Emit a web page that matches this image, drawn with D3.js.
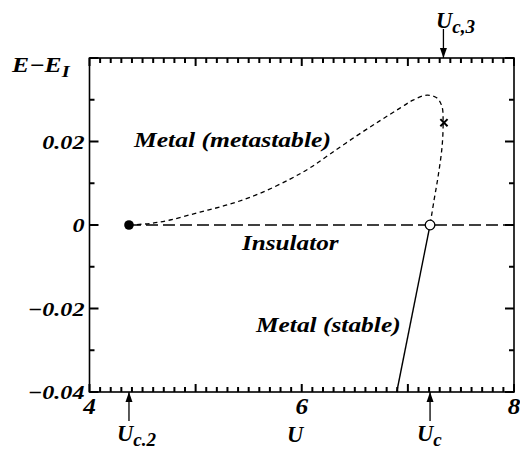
<!DOCTYPE html>
<html><head><meta charset="utf-8">
<script src="https://cdn.jsdelivr.net/npm/d3@7/dist/d3.min.js"></script>
<style>
body{margin:0;background:#fff;}
</style></head>
<body>
<svg id="c" width="520" height="449"></svg>
<script>
// ---- data ----
const xDomain = [4, 8];
const yDomain = [-0.04, 0.04];
const xMajorTicks = [4, 5, 6, 7, 8];
const xTickLabels = [4, 6, 8];
const yMajorTicks = [-0.04, -0.02, 0, 0.02, 0.04];
const yTickLabels = [-0.04, -0.02, 0, 0.02];
const yMinorTicks = [-0.03, -0.01, 0.01, 0.03];

const metaU = [4.372, 4.57, 4.759, 5.041, 5.324, 5.607, 5.89, 6.078, 6.267, 6.502, 6.738, 6.926, 7.049, 7.181, 7.275, 7.322, 7.332, 7.322, 7.284, 7.247, 7.209];
const metaE = [0, 0.00036, 0.0012, 0.0031, 0.0050, 0.0076, 0.0110, 0.0137, 0.0170, 0.0211, 0.0250, 0.0280, 0.0299, 0.0311, 0.0304, 0.0283, 0.0247, 0.0187, 0.0115, 0.0060, 0];

const stableU = [7.209, 6.895];
const stableE = [0, -0.04];

const insulatorU = [4.372, 8];
const insulatorE = [0, 0];

const Uc2 = 4.372, Uc = 7.209, Uc3 = 7.335;
const crossU = 7.34, crossE = 0.0245;

// ---- chart ----
const FONT = "'Liberation Serif', 'Times New Roman', Times, serif";
const svg = d3.select("#c");
const x = d3.scaleLinear().domain(xDomain).range([89.5, 514]);
const y = d3.scaleLinear().domain(yDomain).range([392, 58]);

const xMinor = d3.range(40, 81).map(v => v / 10).filter(v => !xMajorTicks.includes(Math.round(v * 10) / 10));

const tk = svg.append("g");
function seg(x1, y1, x2, y2){
  tk.append("line").attr("x1", x1).attr("y1", y1).attr("x2", x2).attr("y2", y2)
    .style("stroke", "#000").style("stroke-width", "2px");
}
function xTicks(vals, len){
  vals.forEach(d => {
    seg(x(d), y(-0.04), x(d), y(-0.04) - len);
    seg(x(d), y(0.04), x(d), y(0.04) + len);
  });
}
function yTicks(vals, len){
  vals.forEach(d => {
    seg(x(4), y(d), x(4) + len, y(d));
    seg(x(8), y(d), x(8) - len, y(d));
  });
}
xTicks(xMajorTicks, 8);
xTicks(xMinor, 5);
yTicks(yMajorTicks, 9);
yTicks(yMinorTicks, 5);

// frame
svg.append("rect").attr("x", x(4)).attr("y", y(0.04))
  .attr("width", x(8) - x(4)).attr("height", y(-0.04) - y(0.04))
  .attr("fill", "none").attr("stroke", "#000").attr("stroke-width", 1.6);

function txt(xp, yp, size, s, anchor, sx){
  return svg.append("text").attr("x", 0).attr("y", 0)
    .attr("transform", `translate(${xp},${yp}) scale(${sx || 1},1)`)
    .attr("font-family", FONT).attr("font-weight", "bold").attr("font-style", "italic")
    .attr("font-size", size).attr("text-anchor", anchor || "start").attr("fill", "#000").text(s);
}

// tick labels
xTickLabels.forEach(d => txt(x(d), 414, 23, String(d), "middle", 1.1));
const yfmt = d => d === 0 ? "0" : (d < 0 ? "\u2212" : "") + Math.abs(d).toFixed(2);
yTickLabels.forEach(d => txt(84.5, y(d) + 7, 19.5, yfmt(d), "end", 1.24));

// curves
const line = d3.line().x(d => x(d[0])).y(d => y(d[1]));
svg.append("path").datum(d3.zip(insulatorU, insulatorE)).attr("d", line)
  .attr("fill", "none").attr("stroke", "#000").attr("stroke-width", 1.3)
  .attr("stroke-dasharray", "12,5");
const curved = d3.line().x(d => x(d[0])).y(d => y(d[1])).curve(d3.curveCatmullRom);
svg.append("path").datum(d3.zip(metaU, metaE)).attr("d", curved)
  .attr("fill", "none").attr("stroke", "#000").attr("stroke-width", 1.3)
  .attr("stroke-dasharray", "4.5,3.5");
svg.append("path").datum(d3.zip(stableU, stableE)).attr("d", line)
  .attr("fill", "none").attr("stroke", "#000").attr("stroke-width", 1.4);

// markers
svg.append("circle").attr("cx", x(Uc2)).attr("cy", y(0)).attr("r", 4.8).attr("fill", "#000");
svg.append("circle").attr("cx", x(Uc)).attr("cy", y(0)).attr("r", 4.8)
  .attr("fill", "#fff").attr("stroke", "#000").attr("stroke-width", 1.3);
const cx = x(crossU), cy = y(crossE), s = 3.6;
svg.append("path").attr("d", `M${cx-s},${cy-s}L${cx+s},${cy+s}M${cx-s},${cy+s}L${cx+s},${cy-s}`)
  .attr("stroke", "#000").attr("stroke-width", 2);

// arrows
function arrow(xp, y0, y1){
  svg.append("line").attr("x1", xp).attr("x2", xp).attr("y1", y0).attr("y2", y1)
    .attr("stroke", "#000").attr("stroke-width", 1.3);
  const dir = y1 > y0 ? 1 : -1;
  svg.append("path").attr("d", `M${xp},${y1}L${xp-3.5},${y1-dir*10}L${xp+3.5},${y1-dir*10}Z`).attr("fill", "#000");
}
arrow(x(Uc3), 29, y(0.04));
arrow(x(Uc2), 421, y(-0.04));
arrow(x(Uc), 421, y(-0.04));

// labels
function subLabel(xp, yp, main, sub, size, subScale, dy, sx){
  const t = txt(xp, yp, size, null, "start", sx);
  t.append("tspan").text(main);
  t.append("tspan").attr("font-size", size * subScale).attr("dy", dy).text(sub);
  return t;
}
subLabel(12, 72, "E\u2212E", "I", 21, 0.8, 5, 1.22);
subLabel(436, 28, "U", "c,3", 22.5, 0.85, 5, 1.0);
subLabel(117, 441, "U", "c.2", 22.5, 0.85, 5, 1.0);
subLabel(417, 441, "U", "c", 22.5, 0.85, 5, 1.0);
txt(287, 442, 22.5, "U");

txt(134, 147, 20, "Metal (metastable)", "start", 1.28);
txt(242, 250, 20, "Insulator", "start", 1.26);
txt(256, 332, 20, "Metal (stable)", "start", 1.27);
</script>
</body></html>
